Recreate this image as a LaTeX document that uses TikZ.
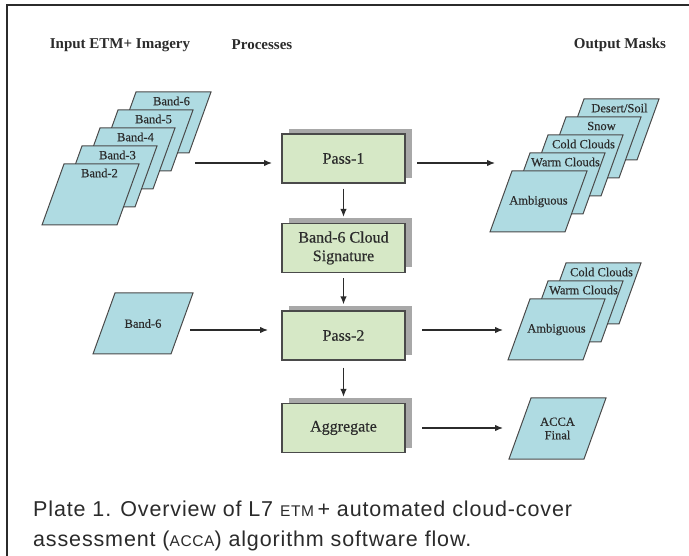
\documentclass[tikz,border=0pt]{standalone}
\usepackage{fontspec}
\setmainfont{Liberation Serif}
\newfontfamily\labfont[FakeBold=0.35]{Liberation Serif}
\newfontfamily\capfont[LetterSpace=4]{Liberation Sans}
\usetikzlibrary{arrows.meta,calc,shadows}
\definecolor{pblue}{HTML}{AFDBE2}
\definecolor{bgreen}{HTML}{D6E8C6}
\definecolor{shade}{HTML}{A8A8A8}
\definecolor{edge}{HTML}{4A4A4A}
\definecolor{ink}{HTML}{2B2B2B}
% #1 width, #2 name, #3 bottom-left x, #4 bottom y
\newcommand{\pgm}[4][75]{%
  \filldraw[pshape] (#3,#4) -- ++(#1,0) -- ++(22,-61) -- ++(-#1,0) -- cycle;
  \coordinate (#2-top) at ($(#3,#4)+(20+#1/2,-52)$);
  \coordinate (#2-c) at ($(#3,#4)+(11+#1/2,-30.5)$);
}
\begin{document}
\begin{tikzpicture}[x=1pt,y=-1pt,
  pshape/.style={fill=pblue, draw=edge, line width=1pt},
  plabel/.style={font=\labfont\fontsize{12.5}{13.5}\selectfont, text=ink, inner sep=0, align=center},
  procbox/.style={draw=edge, fill=bgreen, line width=1.2pt, minimum width=123, minimum height=49,
    inner sep=0, align=center, font=\labfont\fontsize{16}{18.5}\selectfont, text=ink,
    general shadow={fill=shade, shadow xshift=7pt, shadow yshift=5pt}},
  arr/.style={draw=ink, line width=1.3pt, -{Latex[length=8,width=6.5]}},
  head/.style={font=\bfseries\fontsize{15}{15}\selectfont, text=ink, inner sep=0},
  capt/.style={font=\capfont\fontsize{21.5}{21.5}\selectfont, text=ink, inner sep=0, anchor=base west}]
\useasboundingbox (0,0) rectangle (689,556);
\fill[white] (0,0) rectangle (689,556);
\draw[ink, line width=2pt] (7,556) -- (7,5) -- (689,5);

% headers
\node[head] (h1) at (120,45) {Input ETM+ Imagery};
\node[head] (h2) at (262,45) {Processes};
\node[head] (h3) at (620,45) {Output Masks};

% input stack
\pgm{b6}{114}{153}
\node[plabel] (lb6) at (b6-top) {Band-6};
\pgm{b5}{96}{171}
\node[plabel] (lb5) at (b5-top) {Band-5};
\pgm{b4}{78}{189}
\node[plabel] (lb4) at (b4-top) {Band-4};
\pgm{b3}{60}{207}
\node[plabel] (lb3) at (b3-top) {Band-3};
\pgm{b2}{42}{225}
\node[plabel] (lb2) at (b2-top) {Band-2};

% single band-6 input
\pgm[78]{bs}{93}{354}
\node[plabel] (lbs) at (bs-c) {Band-6};

% output stack 1
\pgm{o5}{562}{160}
\node[plabel] (lo5) at (o5-top) {Desert/Soil};
\pgm{o4}{544}{178}
\node[plabel] (lo4) at (o4-top) {Snow};
\pgm{o3}{526}{196}
\node[plabel] (lo3) at (o3-top) {Cold Clouds};
\pgm{o2}{508}{214}
\node[plabel] (lo2) at (o2-top) {Warm Clouds};
\pgm{o1}{490}{232}
\node[plabel] (lo1) at (o1-c) {Ambiguous};

% output stack 2
\pgm{q3}{544}{324}
\node[plabel] (lq3) at (q3-top) {Cold Clouds};
\pgm{q2}{526}{342}
\node[plabel] (lq2) at (q2-top) {Warm Clouds};
\pgm{q1}{508}{360}
\node[plabel] (lq1) at (q1-c) {Ambiguous};

% final output
\pgm{fin}{509}{459}
\node[plabel] (lfin) at (fin-c) {ACCA\\Final};

% processes
\node[procbox] (pass1) at (343.5,158.5) {Pass-1};
\node[procbox] (sig) at (343.5,248) {Band-6 Cloud\\Signature};
\node[procbox] (pass2) at (343.5,335.5) {Pass-2};
\node[procbox] (agg) at (343.5,428) {Aggregate};

% connector ends
\coordinate (inA) at (195,163);
\coordinate (inAe) at (272,163);
\coordinate (outA) at (417,163);
\coordinate (outAe) at (495,163);
\coordinate (inB) at (190,330);
\coordinate (inBe) at (268,330);
\coordinate (outB) at (422,330);
\coordinate (outBe) at (503,330);
\coordinate (outC) at (422,428);
\coordinate (outCe) at (503,428);

\draw[arr] (inA) -- (inAe);
\draw[arr] (outA) -- (outAe);
\draw[arr] (inB) -- (inBe);
\draw[arr] (outB) -- (outBe);
\draw[arr] (outC) -- (outCe);
\draw[arr, shorten <=5pt, shorten >=6pt] (pass1.south) -- (sig.north);
\draw[arr, shorten <=5pt, shorten >=6pt] (sig.south) -- (pass2.north);
\draw[arr, shorten <=7pt, shorten >=6pt] (pass2.south) -- (agg.north);

% caption
\node[capt] (cap1) at (33,516) {Plate 1. Overview of L7 {\fontsize{15.5}{15.5}\selectfont ETM}\,+ automated cloud-cover};
\node[capt] (cap2) at (33,546) {assessment ({\fontsize{15.5}{15.5}\selectfont ACCA}) algorithm software flow.};
\end{tikzpicture}
\end{document}
